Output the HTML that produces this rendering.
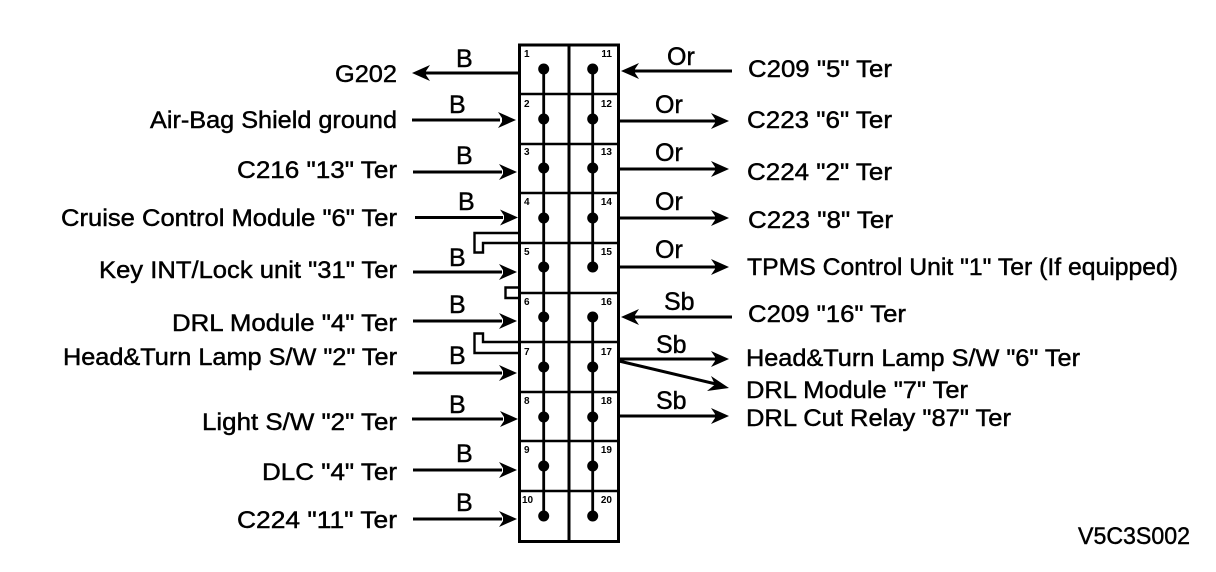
<!DOCTYPE html>
<html><head><meta charset="utf-8"><style>
html,body{margin:0;padding:0;background:#fff;width:1216px;height:572px;overflow:hidden}
svg{display:block}
text{font-family:"Liberation Sans",sans-serif;fill:#000;stroke:#000;stroke-width:.45}
.l{font-size:24px}
.w{font-size:25px}
.n{font-size:10px;font-weight:bold;stroke:none}
.e{text-anchor:end}
</style></head><body>
<svg width="1216" height="572" viewBox="0 0 1216 572" xmlns="http://www.w3.org/2000/svg">
<defs>
<path id="r" d="M0 0L-18-8L-14-2L-14 2L-18 8Z" fill="#000"/>
<path id="a" d="M0 0L18-8L14-2L14 2L18 8Z" fill="#000"/>
<circle id="d" r="5.500" fill="#000"/>
</defs>
<rect x="519.500" y="45" width="99" height="496.500" fill="#fff" stroke="#000" stroke-width="3"/>
<g stroke="#000" fill="none">
<path stroke-width="3" d="M569 45V541"/>
<path stroke-width="2.400" d="M519 94H619M519 144H619M519 193H619M519 243H619M519 293H619M519 342H619M519 392H619M519 441H619M519 491H619"/>
<path stroke-width="2.800" d="M543.700 69V516M592.700 69V267M592.700 317V516"/>
<path stroke-width="2.400" d="M519 233H474.500V252.500H483V243H519M519 287.500H505.500V298H519M519 353H474.500V333.500H483V342H519"/>
<path stroke-width="3" d="M519 73H425M412 120H500M413 172H502M415 217.500H503M413 272H502M413 321H502M413 373H502M412 419H503M413 470H502M413 519H502"/>
<path stroke-width="3" d="M732 71H635M619 121H716M619 169H716M619 218H716M619 267H716M732 317H635M619 359H716M619 361L716 384M619 416H716"/>
</g>
<use href="#a" x="412" y="73"/><use href="#a" x="621" y="71"/><use href="#a" x="621" y="317"/>
<use href="#r" x="516" y="120"/><use href="#r" x="517" y="172"/><use href="#r" x="518" y="217.500"/><use href="#r" x="517" y="272"/><use href="#r" x="517" y="321"/><use href="#r" x="517" y="373"/><use href="#r" x="518" y="419"/><use href="#r" x="517" y="470"/><use href="#r" x="517" y="519"/>
<use href="#r" x="729" y="121"/><use href="#r" x="729" y="169"/><use href="#r" x="729" y="218"/><use href="#r" x="729" y="267"/><use href="#r" x="729" y="359"/><use href="#r" x="729" y="416"/>
<path d="M729 388L711 376L715 384.500L707 391Z" fill="#000"/>
<use href="#d" x="543.700" y="69"/><use href="#d" x="543.700" y="119"/><use href="#d" x="543.700" y="168"/><use href="#d" x="543.700" y="218"/><use href="#d" x="543.700" y="267"/><use href="#d" x="543.700" y="317"/><use href="#d" x="543.700" y="367"/><use href="#d" x="543.700" y="417"/><use href="#d" x="543.700" y="466"/><use href="#d" x="543.700" y="516"/>
<use href="#d" x="592.700" y="69"/><use href="#d" x="592.700" y="119"/><use href="#d" x="592.700" y="168"/><use href="#d" x="592.700" y="218"/><use href="#d" x="592.700" y="267"/><use href="#d" x="592.700" y="317"/><use href="#d" x="592.700" y="367"/><use href="#d" x="592.700" y="417"/><use href="#d" x="592.700" y="466"/><use href="#d" x="592.700" y="516"/>

<g class="n">
<text class="n" x="524" y="57">1</text><text class="n" x="524" y="107">2</text><text class="n" x="524" y="155">3</text><text class="n" x="524" y="205">4</text><text class="n" x="524" y="255">5</text><text class="n" x="524" y="305">6</text><text class="n" x="524" y="355">7</text><text class="n" x="524" y="404">8</text><text class="n" x="524" y="453">9</text><text class="n" x="522" y="503">10</text>
<text class="n e" x="612" y="57">11</text><text class="n e" x="612" y="107">12</text><text class="n e" x="612" y="155">13</text><text class="n e" x="612" y="205">14</text><text class="n e" x="612" y="255">15</text><text class="n e" x="612" y="305">16</text><text class="n e" x="612" y="355">17</text><text class="n e" x="612" y="404">18</text><text class="n e" x="612" y="453">19</text><text class="n e" x="612" y="503">20</text>
</g>

<text class="w" x="456" y="67">B</text><text class="w" x="449" y="113">B</text><text class="w" x="456" y="164">B</text><text class="w" x="458" y="210">B</text><text class="w" x="449" y="266">B</text><text class="w" x="449" y="313">B</text><text class="w" x="449" y="364">B</text><text class="w" x="449" y="413">B</text><text class="w" x="456" y="462">B</text><text class="w" x="456" y="511">B</text>
<text class="w" x="667" y="65">Or</text><text class="w" x="655" y="113">Or</text><text class="w" x="655" y="161">Or</text><text class="w" x="655" y="210">Or</text><text class="w" x="655" y="258">Or</text>
<text class="w" x="664" y="310">Sb</text><text class="w" x="656" y="353">Sb</text><text class="w" x="656" y="409">Sb</text>

<text class="l" x="335" y="82" textLength="62" lengthAdjust="spacingAndGlyphs">G202</text>
<text class="l" x="150" y="128" textLength="247" lengthAdjust="spacingAndGlyphs">Air-Bag Shield ground</text>
<text class="l" x="237" y="178" textLength="160" lengthAdjust="spacingAndGlyphs">C216 "13" Ter</text>
<text class="l" x="61" y="226" textLength="336" lengthAdjust="spacingAndGlyphs">Cruise Control Module "6" Ter</text>
<text class="l" x="99" y="278" textLength="298" lengthAdjust="spacingAndGlyphs">Key INT/Lock unit "31" Ter</text>
<text class="l" x="172" y="331" textLength="225" lengthAdjust="spacingAndGlyphs">DRL Module "4" Ter</text>
<text class="l" x="63" y="365" textLength="334" lengthAdjust="spacingAndGlyphs">Head&amp;Turn Lamp S/W "2" Ter</text>
<text class="l" x="202" y="430" textLength="195" lengthAdjust="spacingAndGlyphs">Light S/W "2" Ter</text>
<text class="l" x="262" y="480" textLength="135" lengthAdjust="spacingAndGlyphs">DLC "4" Ter</text>
<text class="l" x="237" y="528" textLength="160" lengthAdjust="spacingAndGlyphs">C224 "11" Ter</text>

<text class="l" x="748" y="77" textLength="144" lengthAdjust="spacingAndGlyphs">C209 "5" Ter</text>
<text class="l" x="747" y="128" textLength="145" lengthAdjust="spacingAndGlyphs">C223 "6" Ter</text>
<text class="l" x="747" y="180" textLength="145" lengthAdjust="spacingAndGlyphs">C224 "2" Ter</text>
<text class="l" x="748" y="228" textLength="145" lengthAdjust="spacingAndGlyphs">C223 "8" Ter</text>
<text class="l" x="747" y="275" textLength="431" lengthAdjust="spacingAndGlyphs">TPMS Control Unit "1" Ter (If equipped)</text>
<text class="l" x="748" y="322" textLength="158" lengthAdjust="spacingAndGlyphs">C209 "16" Ter</text>
<text class="l" x="746" y="366" textLength="334" lengthAdjust="spacingAndGlyphs">Head&amp;Turn Lamp S/W "6" Ter</text>
<text class="l" x="746" y="398" textLength="222" lengthAdjust="spacingAndGlyphs">DRL Module "7" Ter</text>
<text class="l" x="746" y="426" textLength="265" lengthAdjust="spacingAndGlyphs">DRL Cut Relay "87" Ter</text>
<text class="l" x="1078" y="544" textLength="112" lengthAdjust="spacingAndGlyphs">V5C3S002</text>
</svg>
</body></html>
